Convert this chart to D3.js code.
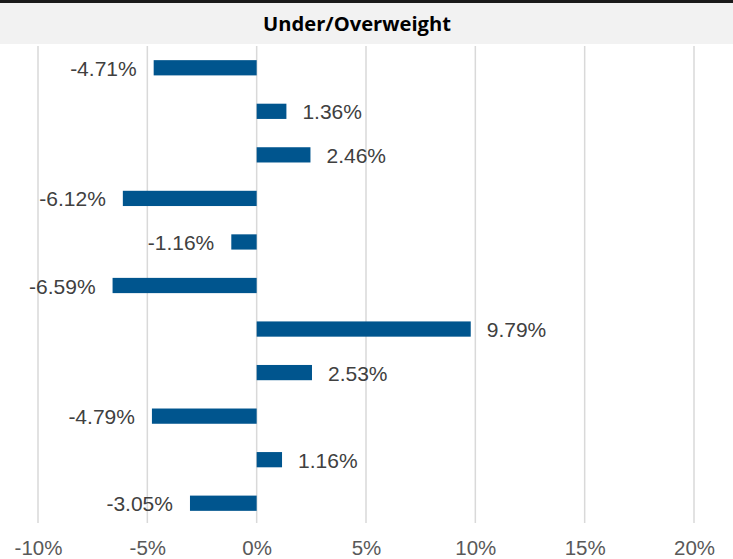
<!DOCTYPE html>
<html><head><meta charset="utf-8">
<script src="https://cdn.jsdelivr.net/npm/d3@7"></script>
<style>html,body{margin:0;padding:0;background:#fff;}</style>
</head><body>
<script>
const title = "Under/Overweight";
const categories = ["A","B","C","D","E","F","G","H","I","J","K"];
const values = [-4.71, 1.36, 2.46, -6.12, -1.16, -6.59, 9.79, 2.53, -4.79, 1.16, -3.05];
const tickValues = [-10, -5, 0, 5, 10, 15, 20];

const W = 733, H = 559;
const svg = d3.select("body").append("svg").attr("width", W).attr("height", H);

// header
svg.append("rect").attr("x",0).attr("y",0).attr("width",W).attr("height",44).attr("fill","#f2f2f2");
svg.append("rect").attr("x",0).attr("y",0).attr("width",W).attr("height",3).attr("fill","#1a1a1a");
svg.append("text").attr("x",357).attr("y",31).attr("text-anchor","middle")
  .attr("font-family","'Open Sans', 'Noto Sans', sans-serif").attr("font-weight","bold")
  .attr("font-size",19.5).attr("fill","#000")
  .attr("textLength",188).attr("lengthAdjust","spacingAndGlyphs").text(title);

const x = d3.scaleLinear().domain([-10,20]).range([38,694]);
const y = d3.scaleBand().domain(categories).range([46,525]).paddingInner(0.65).paddingOuter(0.325);

// gridlines
svg.append("g").selectAll("line").data(tickValues).join("line")
  .attr("x1",d=>x(d)).attr("x2",d=>x(d)).attr("y1",46).attr("y2",523)
  .attr("stroke","#d9d9d9").attr("stroke-width",1.5);

// bars
svg.append("g").selectAll("rect").data(values).join("rect")
  .attr("x",(d)=>x(Math.min(0,d))).attr("width",d=>Math.abs(x(d)-x(0)))
  .attr("y",(d,i)=>y(categories[i])).attr("height",y.bandwidth())
  .attr("fill","#00558e");

// labels
svg.append("g").selectAll("text").data(values).join("text")
  .attr("x",d=> d>=0 ? x(d)+16 : x(d)-17)
  .attr("y",(d,i)=>y(categories[i])+y.bandwidth()/2+8)
  .attr("text-anchor",d=> d>=0 ? "start":"end")
  .attr("font-family","'Liberation Sans', Arial, sans-serif").attr("font-size",21)
  .attr("fill","#404040").text(d=>d.toFixed(2)+"%");

// axis
const axis = d3.axisBottom(x).tickValues(tickValues).tickFormat(d=>d+"%").tickSize(0).tickPadding(0);
const ag = svg.append("g").attr("transform","translate(0,537)").call(axis);
ag.select(".domain").remove();
ag.selectAll("text").attr("dy",null).attr("y",18).attr("font-family","'Liberation Sans', Arial, sans-serif").attr("font-size",20.5)
  .attr("fill","#595959");
</script>
</body></html>
